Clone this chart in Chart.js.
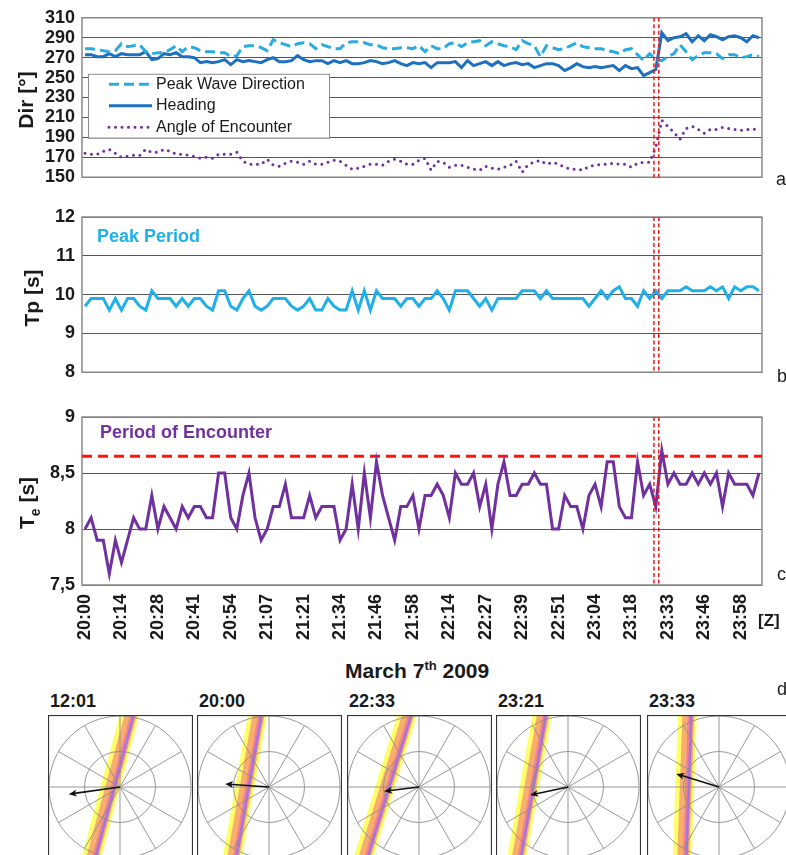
<!DOCTYPE html>
<html>
<head>
<meta charset="utf-8">
<script src="https://cdn.jsdelivr.net/npm/chart.js@4.4.1/dist/chart.umd.min.js"></script>
<style>
html, body { margin: 0; padding: 0; background: #fff; overflow: hidden; }
body { width: 786px; height: 855px; position: relative; font-family: "Liberation Sans", Arial, sans-serif; color: #1a1a1a; }
canvas { position: absolute; }
.t { position: absolute; line-height: 1; white-space: nowrap; }
.b { font-weight: bold; }
.rot { transform: translate(-50%, -50%) rotate(-90deg); }
</style>
</head>
<body>
<canvas id="chartDir" width="786" height="195" style="left:0;top:0"></canvas>
<canvas id="chartTp" width="786" height="195" style="left:0;top:195px"></canvas>
<canvas id="chartTe" width="786" height="260" style="left:0;top:395px"></canvas>

<div class="t b rot" style="left:25px;top:100px;font-size:21px">Dir [°]</div>
<div class="t b rot" style="left:31px;top:298px;font-size:21px">Tp [s]</div>
<div class="t b rot" style="left:29px;top:503px;font-size:21px">T<sub style="font-size:14px">e</sub> [s]</div>
<div class="t b" style="left:97px;top:227px;font-size:18px;color:#1fb0ea">Peak Period</div>
<div class="t b" style="left:100px;top:423px;font-size:18px;color:#7030a0">Period of Encounter</div>
<div class="t b" style="left:758px;top:612px;font-size:17px">[Z]</div>
<div class="t b" style="left:345px;top:659px;font-size:21px">March 7<sup style="font-size:13px">th</sup> 2009</div>
<div class="t" style="left:776px;top:170px;font-size:18px">a</div>
<div class="t" style="left:777px;top:367px;font-size:18px">b</div>
<div class="t" style="left:777px;top:565px;font-size:18px">c</div>
<div class="t" style="left:777px;top:680px;font-size:18px">d</div>

<script>
// x axis labels, one every 6 samples
var timeTicks = ['20:00', '20:14', '20:28', '20:41', '20:54', '21:07', '21:21', '21:34', '21:46', '21:58',
    '22:14', '22:27', '22:39', '22:51', '23:04', '23:18', '23:33', '23:46', '23:58'];

// panel a [deg]
var peakWaveDir = [279, 279, 278, 277, 276, 277, 284, 281, 282, 283,
    276, 274, 275, 275, 278, 282, 276, 281, 280, 277,
    276, 276, 275, 275, 271, 272, 281, 282, 282, 280,
    277, 288, 285, 283, 281, 284, 285, 284, 279, 283,
    281, 279, 279, 285, 286, 286, 285, 283,
    283, 280, 279, 279, 280, 280, 279, 282, 276, 282, 279, 279,
    284, 285, 281, 285, 286, 287, 282, 286, 284, 282,
    281, 278, 287, 284, 282, 271, 282, 280, 278, 279,
    282, 285, 281, 280, 279, 279, 277, 276, 274, 278,
    279, 273, 267, 274, 268, 267, 271, 274, 283, 276,
    268, 272, 275, 275, 274, 269, 273, 273, 270, 271,
    273, 271];
var heading = [273, 273, 271, 271, 274, 271, 274, 273, 273, 273,
    276, 268, 269, 274, 273, 275, 271, 271, 270, 265,
    266, 265, 266, 268, 263, 268, 266, 267, 266, 265,
    268, 270, 266, 266, 267, 272, 268, 266, 267, 267,
    264, 267, 265, 267, 264, 264, 265, 267,
    266, 264, 265, 267, 264, 262, 265, 264, 265, 260, 265, 265,
    265, 266, 260, 267, 262, 264, 266, 262, 266, 262,
    264, 265, 263, 264, 260, 262, 264, 264, 262, 257,
    260, 264, 261, 260, 261, 260, 261, 262, 257, 262,
    259, 260, 252, 255, 258, 295, 287, 290, 291, 294,
    286, 292, 287, 293, 291, 288, 291, 292, 290, 286,
    292, 290];
var encAngle = [174, 173, 173, 176, 178, 174, 170, 171, 172, 172,
    178, 175, 175, 178, 176, 173, 173, 172, 171, 169,
    170, 169, 173, 173, 173, 175, 166, 163, 163, 163,
    168, 162, 161, 164, 166, 165, 163, 166, 163, 163,
    165, 167, 166, 162, 158, 159, 161, 163,
    163, 162, 166, 168, 166, 163, 163, 167, 169, 157, 166, 165,
    160, 162, 162, 160, 158, 157, 161, 159, 158, 160,
    162, 166, 155, 163, 165, 167, 163, 165, 163, 160,
    158, 158, 157, 161, 162, 163, 163, 164, 163, 163,
    160, 164, 165, 165, 180, 207, 201, 195, 188, 199,
    201, 198, 194, 198, 198, 200, 199, 198, 197, 198,
    198, 199];

// panel b [s]
var peakPeriod = [9.7, 9.9, 9.9, 9.9, 9.6, 9.9, 9.6, 9.9, 9.9, 9.7,
    9.6, 10.1, 9.9, 9.9, 9.9, 9.7, 9.9, 9.7, 9.9, 9.9,
    9.7, 9.6, 10.1, 10.1, 9.7, 9.6, 9.9, 10.1, 9.7, 9.6,
    9.7, 9.9, 9.9, 9.9, 9.7, 9.6, 9.7, 9.9, 9.6, 9.6,
    9.9, 9.7, 9.6, 9.6, 10.1, 9.6, 10.1, 9.6, 10.1, 9.9,
    9.9, 9.9, 9.7, 9.9, 9.9, 9.7, 9.9, 9.9, 10.1, 9.9,
    9.6, 10.1, 10.1, 10.1, 9.9, 9.7, 9.9, 9.6, 9.9, 9.9,
    9.9, 9.9, 10.1, 10.1, 10.1, 9.9, 10.1, 9.9, 9.9, 9.9,
    9.9, 9.9, 9.9, 9.7, 9.9, 10.1, 9.9, 10.1, 10.2, 9.9,
    9.9, 9.7, 10.1, 9.9, 10.1, 9.9, 10.1, 10.1, 10.1, 10.2,
    10.1, 10.1, 10.1, 10.2, 10.1, 10.2, 9.9, 10.2, 10.1, 10.2,
    10.2, 10.1];

// panel c [s]
var encPeriod = [8.0, 8.1, 7.9, 7.9, 7.6, 7.9, 7.7, 7.9, 8.1, 8.0,
    8.0, 8.3, 8.0, 8.2, 8.1, 8.0, 8.2, 8.1, 8.2, 8.2,
    8.1, 8.1, 8.5, 8.5, 8.1, 8.0, 8.3, 8.5, 8.1, 7.9,
    8.0, 8.2, 8.2, 8.4, 8.1, 8.1, 8.1, 8.3, 8.1, 8.2,
    8.2, 8.2, 7.9, 8.0, 8.4, 8.0, 8.5, 8.1, 8.6, 8.3,
    8.1, 7.9, 8.2, 8.2, 8.3, 8.0, 8.3, 8.3, 8.4, 8.3,
    8.1, 8.5, 8.4, 8.4, 8.5, 8.2, 8.4, 8.0, 8.4, 8.6,
    8.3, 8.3, 8.4, 8.4, 8.5, 8.4, 8.4, 8.0, 8.0, 8.3,
    8.2, 8.2, 8.0, 8.3, 8.4, 8.2, 8.6, 8.6, 8.2, 8.1,
    8.1, 8.6, 8.3, 8.4, 8.2, 8.7, 8.4, 8.5, 8.4, 8.4,
    8.5, 8.4, 8.5, 8.4, 8.5, 8.2, 8.5, 8.4, 8.4, 8.4,
    8.3, 8.5];
var teLimit = 8.65;

// course change, in sample units
var manoeuvre = [93.7, 94.5];

// panel d
var roseTimes = ['12:01', '20:00', '22:33', '23:21', '23:33'];
var roseHeading = [262, 274, 263, 258, 287];
var roseSpeed = [1.46, 1.24, 0.99, 1.09, 1.26];
var roseWaveDir = [285, 280, 287, 280, 272];
var roseCrestShift = [0.15, 0.56, 0.8, 0.96, 0.85];

var roseLeft = [48, 197, 347, 496, 647];
var fontFamily = '"Liberation Sans", Arial, sans-serif';
Chart.defaults.font.family = fontFamily;
Chart.defaults.color = '#1a1a1a';

function xy(arr) {
    return arr.map(function (v, i) { return { x: i, y: v }; });
}

var framePlugin = {
    id: 'frame',
    beforeDatasetsDraw: function (chart) {
        var a = chart.chartArea, c = chart.ctx;
        c.save();
        c.strokeStyle = '#8a8a8a';
        c.lineWidth = 1.5;
        c.strokeRect(a.left, a.top, a.width, a.height);
        c.restore();
    },
    afterDatasetsDraw: function (chart) {
        var a = chart.chartArea, c = chart.ctx, xs = chart.scales.x;
        c.save();
        c.strokeStyle = '#f01818';
        c.lineWidth = 1.5;
        c.setLineDash([4, 2.5]);
        manoeuvre.forEach(function (v) {
            var px = xs.getPixelForValue(v);
            c.beginPath();
            c.moveTo(px, a.top);
            c.lineTo(px, a.bottom);
            c.stroke();
        });
        c.restore();
    }
};

var legendBox = {
    id: 'legendBox',
    afterDraw: function (chart) {
        var a = chart.chartArea, c = chart.ctx;
        var x0 = a.left + 6, y0 = a.top + 56;
        c.save();
        c.fillStyle = '#fff';
        c.fillRect(x0, y0, 241, 64);
        c.strokeStyle = '#8a8a8a';
        c.lineWidth = 1;
        c.strokeRect(x0 + 0.5, y0 + 0.5, 241, 64);
        c.font = '16px ' + fontFamily;
        c.textBaseline = 'middle';
        chart.data.datasets.forEach(function (ds, k) {
            var y = y0 + 10.5 + k * 21.5;
            c.strokeStyle = ds.borderColor;
            c.lineWidth = ds.borderWidth;
            c.lineCap = ds.borderCapStyle || 'butt';
            c.setLineDash(ds.borderDash || []);
            c.beginPath();
            c.moveTo(x0 + 21, y);
            c.lineTo(x0 + 64, y);
            c.stroke();
            c.fillStyle = '#1a1a1a';
            c.fillText(ds.label, x0 + 68, y);
        });
        c.restore();
    }
};

function lineOptions(yMin, yMax, yStep, padTop, padBottom, showX) {
    return {
        responsive: false,
        animation: false,
        layout: { padding: { top: padTop, bottom: padBottom, left: 0, right: 24 } },
        plugins: { legend: { display: false }, tooltip: { enabled: false } },
        elements: { point: { radius: 0 }, line: { tension: 0 } },
        scales: {
            x: {
                type: 'linear', min: -0.5, max: 111.5, display: showX,
                grid: { display: false, drawTicks: false }, border: { display: false },
                afterBuildTicks: function (s) {
                    s.ticks = timeTicks.map(function (t, k) { return { value: k * 6 }; });
                },
                afterFit: function (s) { s.height = showX ? 70 : 0; },
                ticks: {
                    autoSkip: false, minRotation: 90, maxRotation: 90, padding: 9,
                    font: { size: 18, weight: 'bold' },
                    callback: function (v) { return timeTicks[Math.round(v / 6)]; }
                }
            },
            y: {
                min: yMin, max: yMax,
                afterFit: function (s) { s.width = 82; },
                grid: { color: '#555', lineWidth: 1, drawTicks: false },
                border: { display: false },
                ticks: {
                    stepSize: yStep, padding: 7, autoSkip: false,
                    font: { size: 18, weight: 'bold' },
                    callback: function (v) { return String(v).replace('.', ','); }
                }
            }
        }
    };
}

new Chart(document.getElementById('chartDir'), {
    type: 'line',
    data: {
        datasets: [
            { label: 'Peak Wave Direction', data: xy(peakWaveDir), borderColor: '#29abe2', borderWidth: 3, borderDash: [10, 5] },
            { label: 'Heading', data: xy(heading), borderColor: '#1f6fbf', borderWidth: 3 },
            { label: 'Angle of Encounter', data: xy(encAngle), borderColor: '#7030a0', borderWidth: 3, borderDash: [0, 6.5], borderCapStyle: 'round' }
        ]
    },
    options: lineOptions(150, 310, 20, 17, 8, false),
    plugins: [framePlugin, legendBox]
});

new Chart(document.getElementById('chartTp'), {
    type: 'line',
    data: {
        datasets: [
            { label: 'Peak Period', data: xy(peakPeriod), borderColor: '#1fb0ea', borderWidth: 3 }
        ]
    },
    options: lineOptions(8, 12, 1, 22, 10, false),
    plugins: [framePlugin]
});

new Chart(document.getElementById('chartTe'), {
    type: 'line',
    data: {
        datasets: [
            { label: 'Period of Encounter', data: xy(encPeriod), borderColor: '#7030a0', borderWidth: 3 },
            { label: 'limit', data: [{ x: -0.5, y: teLimit }, { x: 111.5, y: teLimit }], borderColor: '#ff1010', borderWidth: 3, borderDash: [10, 6] }
        ]
    },
    options: lineOptions(7.5, 9, 0.5, 22, 0, true),
    plugins: [framePlugin]
});

// compass roses: crest band, heading arrow, frame
var rosePlugin = {
    id: 'rose',
    beforeDraw: function (chart, args, o) {
        var s = chart.scales.r, c = chart.ctx;
        var w = o.wave * Math.PI / 180;
        var ux = Math.sin(w), uy = -Math.cos(w);
        var vx = -uy, vy = ux;
        var d = s.getDistanceFromCenterForValue(o.shift);
        var cx = s.xCenter + ux * d, cy = s.yCenter + uy * d;
        var stripes = [[19, 'rgba(255,255,100,0.95)', 4], [12, '#f9ae6e', 3], [5, '#f0848a', 1], [2.5, '#a872e0', 0]];
        c.save();
        c.beginPath();
        c.rect(1, 1, chart.width - 2, chart.height - 2);
        c.clip();
        stripes.forEach(function (st) {
            var ox = cx + ux * st[2], oy = cy + uy * st[2];
            c.strokeStyle = st[1];
            c.lineWidth = st[0];
            c.beginPath();
            c.moveTo(ox - vx * 160, oy - vy * 160);
            c.lineTo(ox + vx * 160, oy + vy * 160);
            c.stroke();
        });
        c.restore();
    },
    afterDraw: function (chart, args, o) {
        var s = chart.scales.r, c = chart.ctx;
        var h = o.heading * Math.PI / 180;
        var len = s.getDistanceFromCenterForValue(o.speed);
        var dx = Math.sin(h), dy = -Math.cos(h);
        var tx = s.xCenter + dx * len, ty = s.yCenter + dy * len;
        c.save();
        c.strokeStyle = '#111';
        c.fillStyle = '#111';
        c.lineWidth = 1.6;
        c.beginPath();
        c.moveTo(s.xCenter, s.yCenter);
        c.lineTo(tx - dx * 4, ty - dy * 4);
        c.stroke();
        c.beginPath();
        c.moveTo(tx, ty);
        c.lineTo(tx - dx * 8 - dy * 3.5, ty - dy * 8 + dx * 3.5);
        c.lineTo(tx - dx * 6, ty - dy * 6);
        c.lineTo(tx - dx * 8 + dy * 3.5, ty - dy * 8 - dx * 3.5);
        c.closePath();
        c.fill();
        c.strokeStyle = '#333';
        c.lineWidth = 1.2;
        c.strokeRect(0.5, 0.5, 144, 144);
        c.restore();
    }
};

roseTimes.forEach(function (t, k) {
    var title = document.createElement('div');
    title.className = 't b';
    title.style.cssText = 'left:' + (roseLeft[k] + 2) + 'px;top:692px;font-size:18px';
    title.textContent = t;
    document.body.appendChild(title);

    var cv = document.createElement('canvas');
    cv.width = 145;
    cv.height = 145;
    cv.style.left = roseLeft[k] + 'px';
    cv.style.top = '715px';
    document.body.appendChild(cv);

    new Chart(cv, {
        type: 'radar',
        data: {
            labels: ['', '', '', '', '', '', '', '', '', '', '', ''],
            datasets: [{ data: [] }]
        },
        options: {
            responsive: false,
            animation: false,
            layout: { padding: 1 },
            plugins: {
                legend: { display: false },
                tooltip: { enabled: false },
                rose: { heading: roseHeading[k], speed: roseSpeed[k], wave: roseWaveDir[k], shift: roseCrestShift[k] }
            },
            scales: {
                r: {
                    min: 0, max: 2,
                    ticks: { display: false, stepSize: 1 },
                    pointLabels: { display: false },
                    grid: { circular: true, color: '#8c8c8c', lineWidth: 0.9 },
                    angleLines: { color: '#8c8c8c', lineWidth: 0.9 }
                }
            }
        },
        plugins: [rosePlugin]
    });
});
</script>
</body>
</html>
